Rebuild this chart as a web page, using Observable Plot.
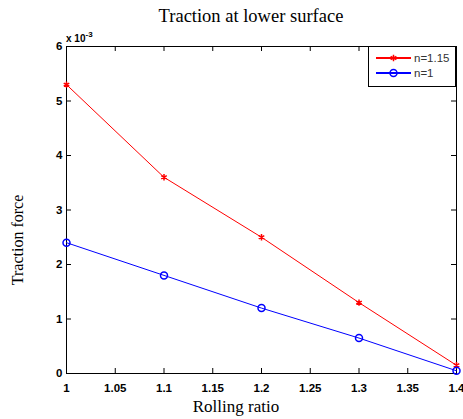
<!DOCTYPE html>
<html><head><meta charset="utf-8">
<script src="https://cdn.jsdelivr.net/npm/d3@7"></script>
<script src="https://cdn.jsdelivr.net/npm/@observablehq/plot@0.6"></script>
<style>body{margin:0;background:#fff}svg{display:block}</style>
</head><body><div id="c"></div>
<script>
const rollingRatio = [1, 1.1, 1.2, 1.3, 1.4];
const tractionN115 = [5.3, 3.6, 2.5, 1.3, 0.15];
const tractionN1 = [2.4, 1.8, 1.2, 0.65, 0.05];
const seriesNames = ["n=1.15", "n=1"];
const xTicks = [1, 1.05, 1.1, 1.15, 1.2, 1.25, 1.3, 1.35, 1.4];
const yTicks = [0, 1, 2, 3, 4, 5, 6];
const colors = ["#ff0000", "#0000ff"];

const data = [];
rollingRatio.forEach((x, i) => {
  data.push({x, y: tractionN115[i], s: seriesNames[0]});
  data.push({x, y: tractionN1[i], s: seriesNames[1]});
});
const red = data.filter(d => d.s === seriesNames[0]);
const blue = data.filter(d => d.s === seriesNames[1]);

const W = 463, H = 419;
const tickFont = {fontFamily: "Liberation Sans, Arial, sans-serif", fontWeight: "bold", fontSize: 11.5};
const chart = Plot.plot({
  width: W, height: H,
  marginLeft: 66, marginRight: 7, marginTop: 46, marginBottom: 46,
  style: {background: "#fff", color: "#000", fontFamily: "Liberation Sans, Arial, sans-serif"},
  x: {domain: [1, 1.4]},
  y: {domain: [0, 6]},
  marks: [
    Plot.frame({stroke: "#000", strokeWidth: 1}),
    Plot.tickX(xTicks, {x: d => d, insetTop: 322, stroke: "#000"}),
    Plot.tickX(xTicks, {x: d => d, insetBottom: 322, stroke: "#000"}),
    Plot.tickY(yTicks, {y: d => d, insetRight: 385, stroke: "#000"}),
    Plot.tickY(yTicks, {y: d => d, insetLeft: 385, stroke: "#000"}),
    Plot.axisX({ticks: xTicks, tickSize: 0, tickPadding: 10, label: null, tickFormat: d => String(d), ...tickFont, fill: "#000"}),
    Plot.axisY({ticks: yTicks, tickSize: 0, tickPadding: 4, label: null, tickFormat: d => String(d), ...tickFont, fill: "#000"}),
    Plot.line(red, {x: "x", y: "y", stroke: colors[0], strokeWidth: 1}),
    Plot.line(blue, {x: "x", y: "y", stroke: colors[1], strokeWidth: 1}),
    Plot.dot(red, {x: "x", y: "y", symbol: "asterisk", r: 3, stroke: colors[0], strokeWidth: 1.5}),
    Plot.dot(blue, {x: "x", y: "y", symbol: "circle", r: 3.5, stroke: colors[1], strokeWidth: 1.5, fill: "none"})
  ]
});
document.getElementById("c").append(chart);

const svg = d3.select(chart);
function txt(x, y, s, opts) {
  const t = svg.append("text").attr("x", x).attr("y", y).text(s);
  t.style("font-family", opts.family).style("font-size", opts.size + "px")
   .style("text-anchor", opts.anchor || "middle").style("fill", opts.fill || "#000")
   .style("font-weight", opts.weight || "normal");
  return t;
}
const serif = "Liberation Serif, Times New Roman, serif";
const sans = "Liberation Sans, Arial, sans-serif";
// exponent label
const ex = svg.append("text").attr("x", 66).attr("y", 42)
  .style("font-family", sans).style("font-weight", "bold").style("font-size", "10px").style("text-anchor", "start").style("fill", "#000");
ex.append("tspan").text("x 10");
ex.append("tspan").attr("dy", -5).style("font-size", "8px").text("-3");
// title
txt(251, 22, "Traction at lower surface", {family: serif, size: 18.5});
// y label
txt(0, 0, "Traction force", {family: serif, size: 16}).attr("transform", "translate(23,240) rotate(-90)");
// x label
txt(236, 412, "Rolling ratio", {family: serif, size: 17});
// legend
const lg = svg.append("g");
lg.append("rect").attr("x", 368.5).attr("y", 46.5).attr("width", 87).attr("height", 40).attr("fill", "#fff").attr("stroke", "#000");
seriesNames.forEach((name, i) => {
  const yy = 58 + i * 15;
  lg.append("line").attr("x1", 376).attr("x2", 411).attr("y1", yy).attr("y2", yy).attr("stroke", colors[i]).attr("stroke-width", 2);
  if (i === 0) {
    lg.append("path").attr("d", d3.symbol(d3.symbolAsterisk, 30)()).attr("transform", `translate(393.5,${yy})`).attr("stroke", colors[i]).attr("stroke-width", 1.5).attr("fill", "none");
  } else {
    lg.append("circle").attr("cx", 393.5).attr("cy", yy).attr("r", 3.5).attr("stroke", colors[i]).attr("stroke-width", 1.5).attr("fill", "none");
  }
  lg.append("text").attr("x", 414).attr("y", yy + 4)
    .style("font-family", sans).style("font-size", "11.5px").style("text-anchor", "start").style("fill", "#333").text(name);
});
</script></body></html>
